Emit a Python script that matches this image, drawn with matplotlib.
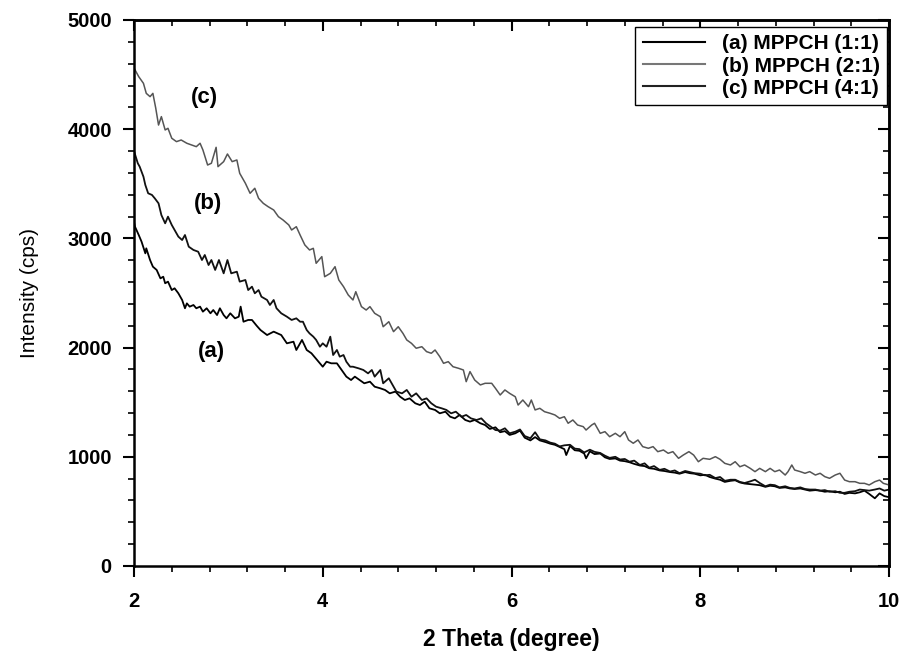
import matplotlib
matplotlib.use("Agg")
import matplotlib.pyplot as plt
from matplotlib.lines import Line2D
from matplotlib.ticker import MultipleLocator

plt.rcParams["font.family"] = ["Liberation Sans", "DejaVu Sans"]

# ── data: (2theta, intensity) ───────────────────────────────
curve_a = [
    (2.00, 3150), (2.01, 3108), (2.05, 3031), (2.08, 2970), (2.12, 2863), (2.13, 2909),
    (2.17, 2802), (2.20, 2741), (2.24, 2711), (2.28, 2634), (2.31, 2649), (2.33, 2589),
    (2.36, 2604), (2.40, 2527), (2.43, 2543), (2.47, 2497), (2.51, 2436), (2.54, 2360),
    (2.56, 2405), (2.59, 2375), (2.63, 2390), (2.66, 2360), (2.70, 2375), (2.73, 2329),
    (2.77, 2360), (2.81, 2314), (2.84, 2344), (2.88, 2298), (2.91, 2360), (2.95, 2298),
    (2.98, 2268), (3.02, 2314), (3.07, 2268), (3.11, 2283), (3.13, 2375), (3.16, 2237),
    (3.21, 2253), (3.25, 2253), (3.30, 2200), (3.34, 2161), (3.41, 2115), (3.48, 2146),
    (3.56, 2115), (3.62, 2039), (3.69, 2054), (3.72, 1978), (3.78, 2070), (3.83, 1978),
    (3.88, 1948), (3.94, 1886), (4.00, 1825), (4.04, 1871), (4.09, 1856), (4.15, 1856),
    (4.20, 1795), (4.25, 1734), (4.30, 1703), (4.34, 1734), (4.39, 1703), (4.44, 1673),
    (4.50, 1688), (4.55, 1642), (4.61, 1627), (4.66, 1612), (4.71, 1581), (4.77, 1597),
    (4.82, 1550), (4.87, 1520), (4.92, 1535), (4.98, 1490), (5.03, 1474), (5.08, 1505),
    (5.13, 1444), (5.19, 1429), (5.24, 1398), (5.30, 1413), (5.35, 1367), (5.40, 1352),
    (5.45, 1383), (5.51, 1337), (5.56, 1322), (5.61, 1337), (5.67, 1307), (5.72, 1291),
    (5.77, 1255), (5.83, 1270), (5.88, 1225), (5.93, 1235), (5.98, 1200), (6.04, 1215),
    (6.09, 1240), (6.14, 1175), (6.20, 1150), (6.25, 1180), (6.30, 1150), (6.36, 1135),
    (6.41, 1120), (6.46, 1110), (6.51, 1090), (6.56, 1070), (6.58, 1016), (6.62, 1100),
    (6.67, 1060), (6.72, 1055), (6.77, 1030), (6.79, 986), (6.83, 1050), (6.88, 1025),
    (6.94, 1030), (6.99, 995), (7.04, 980), (7.10, 985), (7.15, 965), (7.20, 960),
    (7.25, 950), (7.30, 935), (7.36, 920), (7.41, 915), (7.46, 895), (7.51, 890),
    (7.57, 875), (7.62, 870), (7.68, 860), (7.73, 855), (7.78, 845), (7.84, 860),
    (7.89, 850), (7.94, 845), (8.00, 830), (8.05, 835), (8.10, 815), (8.16, 800),
    (8.21, 790), (8.26, 770), (8.32, 780), (8.37, 785), (8.42, 765), (8.47, 755),
    (8.53, 750), (8.58, 745), (8.63, 740), (8.69, 725), (8.74, 735), (8.79, 730),
    (8.84, 715), (8.90, 720), (8.95, 710), (9.00, 705), (9.06, 710), (9.11, 700),
    (9.16, 690), (9.22, 695), (9.27, 690), (9.32, 680), (9.37, 685), (9.43, 675),
    (9.48, 680), (9.53, 660), (9.58, 670), (9.64, 665), (9.69, 675), (9.74, 690),
    (9.79, 660), (9.85, 620), (9.90, 665), (9.95, 640), (10.00, 630),
]

curve_b = [
    (2.00, 3800), (2.04, 3688), (2.06, 3657), (2.10, 3565), (2.12, 3489), (2.15, 3413),
    (2.19, 3398), (2.22, 3367), (2.26, 3321), (2.29, 3214), (2.33, 3138), (2.36, 3199),
    (2.40, 3123), (2.43, 3077), (2.47, 3016), (2.51, 2985), (2.54, 3031), (2.58, 2924),
    (2.63, 2894), (2.68, 2878), (2.72, 2802), (2.75, 2848), (2.79, 2756), (2.82, 2802),
    (2.86, 2711), (2.90, 2802), (2.95, 2680), (2.99, 2802), (3.03, 2680), (3.09, 2695),
    (3.12, 2604), (3.18, 2619), (3.21, 2527), (3.25, 2558), (3.28, 2497), (3.32, 2527),
    (3.35, 2466), (3.41, 2436), (3.44, 2390), (3.48, 2436), (3.51, 2360), (3.56, 2314),
    (3.62, 2283), (3.67, 2253), (3.72, 2268), (3.76, 2237), (3.79, 2237), (3.83, 2161),
    (3.86, 2130), (3.90, 2100), (3.93, 2070), (3.97, 2008), (4.00, 2039), (4.04, 2008),
    (4.08, 2100), (4.11, 1932), (4.15, 1978), (4.18, 1917), (4.22, 1932), (4.25, 1871),
    (4.29, 1825), (4.32, 1825), (4.38, 1810), (4.43, 1795), (4.48, 1764), (4.52, 1795),
    (4.55, 1734), (4.61, 1795), (4.64, 1673), (4.70, 1719), (4.75, 1642), (4.78, 1597),
    (4.84, 1581), (4.89, 1612), (4.94, 1550), (4.99, 1581), (5.05, 1520), (5.10, 1535),
    (5.15, 1490), (5.20, 1459), (5.26, 1444), (5.31, 1429), (5.36, 1398), (5.41, 1413),
    (5.47, 1367), (5.52, 1383), (5.57, 1352), (5.63, 1337), (5.68, 1352), (5.73, 1307),
    (5.78, 1276), (5.83, 1245), (5.88, 1240), (5.93, 1261), (5.98, 1215), (6.04, 1230),
    (6.09, 1250), (6.14, 1190), (6.20, 1170), (6.25, 1225), (6.30, 1160), (6.36, 1150),
    (6.41, 1130), (6.46, 1120), (6.51, 1095), (6.56, 1105), (6.62, 1110), (6.67, 1075),
    (6.72, 1070), (6.77, 1040), (6.83, 1065), (6.88, 1045), (6.94, 1035), (6.99, 1010),
    (7.04, 990), (7.10, 1000), (7.15, 975), (7.20, 980), (7.25, 955), (7.30, 965),
    (7.36, 925), (7.41, 940), (7.46, 900), (7.51, 915), (7.57, 880), (7.62, 890),
    (7.68, 865), (7.73, 875), (7.78, 850), (7.84, 870), (7.89, 860), (7.94, 850),
    (8.00, 845), (8.05, 830), (8.10, 835), (8.16, 805), (8.21, 815), (8.26, 780),
    (8.32, 790), (8.37, 790), (8.42, 770), (8.47, 760), (8.53, 775), (8.58, 790),
    (8.63, 760), (8.69, 730), (8.74, 745), (8.79, 740), (8.84, 720), (8.90, 730),
    (8.95, 715), (9.00, 710), (9.06, 720), (9.11, 705), (9.16, 700), (9.22, 700),
    (9.27, 690), (9.32, 695), (9.37, 680), (9.43, 685), (9.48, 670), (9.53, 670),
    (9.58, 680), (9.64, 685), (9.69, 700), (9.74, 695), (9.79, 690), (9.85, 700),
    (9.90, 710), (9.95, 690), (10.00, 700),
]

curve_c = [
    (2.00, 4560), (2.05, 4481), (2.10, 4420), (2.13, 4328), (2.17, 4298), (2.20, 4328),
    (2.23, 4194), (2.26, 4038), (2.29, 4115), (2.33, 3993), (2.36, 4008), (2.40, 3917),
    (2.45, 3886), (2.50, 3901), (2.56, 3871), (2.61, 3855), (2.66, 3840), (2.70, 3871),
    (2.73, 3810), (2.78, 3672), (2.82, 3688), (2.87, 3834), (2.89, 3657), (2.95, 3703),
    (2.99, 3773), (3.04, 3703), (3.09, 3718), (3.12, 3596), (3.18, 3505), (3.23, 3413),
    (3.28, 3459), (3.32, 3367), (3.37, 3321), (3.42, 3291), (3.48, 3260), (3.53, 3199),
    (3.58, 3168), (3.64, 3123), (3.67, 3077), (3.72, 3107), (3.76, 3031), (3.81, 2940),
    (3.86, 2894), (3.90, 2909), (3.93, 2772), (3.99, 2833), (4.02, 2649), (4.08, 2680),
    (4.13, 2741), (4.17, 2619), (4.22, 2558), (4.27, 2482), (4.32, 2436), (4.35, 2512),
    (4.41, 2375), (4.46, 2344), (4.50, 2375), (4.55, 2314), (4.61, 2283), (4.64, 2191),
    (4.70, 2237), (4.75, 2146), (4.80, 2191), (4.85, 2130), (4.89, 2070), (4.94, 2039),
    (4.99, 1994), (5.05, 2008), (5.10, 1963), (5.15, 1948), (5.19, 1978), (5.24, 1917),
    (5.28, 1856), (5.33, 1871), (5.38, 1825), (5.44, 1810), (5.49, 1795), (5.52, 1688),
    (5.56, 1780), (5.61, 1703), (5.67, 1658), (5.72, 1673), (5.79, 1673), (5.83, 1627),
    (5.88, 1566), (5.93, 1612), (5.98, 1581), (6.04, 1550), (6.07, 1474), (6.12, 1520),
    (6.18, 1459), (6.21, 1520), (6.25, 1429), (6.30, 1444), (6.35, 1413), (6.41, 1398),
    (6.46, 1383), (6.51, 1352), (6.56, 1367), (6.60, 1307), (6.65, 1337), (6.70, 1291),
    (6.76, 1276), (6.79, 1245), (6.85, 1291), (6.88, 1307), (6.94, 1215), (6.99, 1230),
    (7.04, 1184), (7.10, 1215), (7.15, 1184), (7.20, 1230), (7.24, 1154), (7.29, 1124),
    (7.34, 1154), (7.39, 1093), (7.45, 1078), (7.50, 1093), (7.55, 1047), (7.61, 1062),
    (7.66, 1032), (7.71, 1047), (7.77, 986), (7.82, 1016), (7.88, 1047), (7.93, 1016),
    (7.98, 955), (8.03, 986), (8.10, 977), (8.16, 1001), (8.21, 977), (8.26, 940),
    (8.32, 925), (8.37, 955), (8.42, 909), (8.47, 925), (8.53, 894), (8.58, 864),
    (8.63, 894), (8.69, 864), (8.74, 894), (8.79, 864), (8.84, 879), (8.90, 833),
    (8.93, 864), (8.97, 925), (9.00, 879), (9.06, 864), (9.11, 849), (9.16, 864),
    (9.22, 833), (9.27, 849), (9.32, 818), (9.37, 803), (9.43, 833), (9.48, 849),
    (9.53, 787), (9.58, 772), (9.64, 772), (9.69, 757), (9.74, 757), (9.79, 742),
    (9.85, 772), (9.90, 787), (9.94, 757), (10.00, 742),
]

legend_labels = ["(a) MPPCH (1:1)", "(b) MPPCH (2:1)", "(c) MPPCH (4:1)"]
legend_colors = ["black", "#777777", "#222222"]
curve_tags = ["(a)", "(b)", "(c)"]
tag_pos = [(2.82, 1960), (2.78, 3324), (2.75, 4286)]

# ── plot ─────────────────────────────────────────────────────
fig = plt.figure(figsize=(9.03, 6.64), dpi=100)
ax = fig.add_axes([0.1484, 0.1476, 0.8361, 0.8223])

for data, col, lw in [(curve_a, "black", 1.3),
                      (curve_b, "#111111", 1.3),
                      (curve_c, "#555555", 1.1)]:
    xs, ys = zip(*data)
    ax.plot(xs, ys, color=col, linewidth=lw)

for tag, (tx, ty) in zip(curve_tags, tag_pos):
    ax.text(tx, ty, tag, fontsize=16, fontweight="bold",
            ha="center", va="center")

ax.set_xlim(2, 10)
ax.set_ylim(0, 5000)
ax.xaxis.set_major_locator(MultipleLocator(2))
ax.xaxis.set_minor_locator(MultipleLocator(0.4))
ax.yaxis.set_major_locator(MultipleLocator(1000))
ax.yaxis.set_minor_locator(MultipleLocator(200))
ax.tick_params(which="major", direction="out", length=8, width=1.5,
               labelsize=14.5)
ax.tick_params(axis="x", which="major", pad=11)
ax.tick_params(axis="y", which="major", pad=8)
ax.tick_params(which="minor", direction="out", length=4, width=1.2)
for lab in ax.get_xticklabels() + ax.get_yticklabels():
    lab.set_fontweight("bold")

# inward ticks on top and right
top = ax.secondary_xaxis("top")
top.xaxis.set_major_locator(MultipleLocator(2))
top.xaxis.set_minor_locator(MultipleLocator(0.4))
top.tick_params(which="major", direction="in", length=8, width=1.5, labeltop=False)
top.tick_params(which="minor", direction="in", length=4, width=1.2)
right = ax.secondary_yaxis("right")
right.yaxis.set_major_locator(MultipleLocator(1000))
right.yaxis.set_minor_locator(MultipleLocator(200))
right.tick_params(which="major", direction="in", length=8, width=1.5, labelright=False)
right.tick_params(which="minor", direction="in", length=4, width=1.2)
for a in (ax, top, right):
    for sp in a.spines.values():
        sp.set_linewidth(1.8)

ax.set_xlabel("2 Theta (degree)", fontsize=16.5, fontweight="bold", labelpad=12)
ax.set_ylabel("Intensity (cps)", fontsize=15, labelpad=20)

handles = [Line2D([0], [0], color=c, linewidth=1.5) for c in legend_colors]
leg = ax.legend(handles, legend_labels, loc="upper right",
                prop={"weight": "bold", "size": 15}, fancybox=False,
                framealpha=1, edgecolor="black", handlelength=3.0,
                handletextpad=0.8, borderpad=0.35, borderaxespad=0,
                labelspacing=0.15, bbox_to_anchor=(0.9974, 0.987))
leg.get_frame().set_linewidth(1.0)

plt.savefig("out.png", dpi=100)
